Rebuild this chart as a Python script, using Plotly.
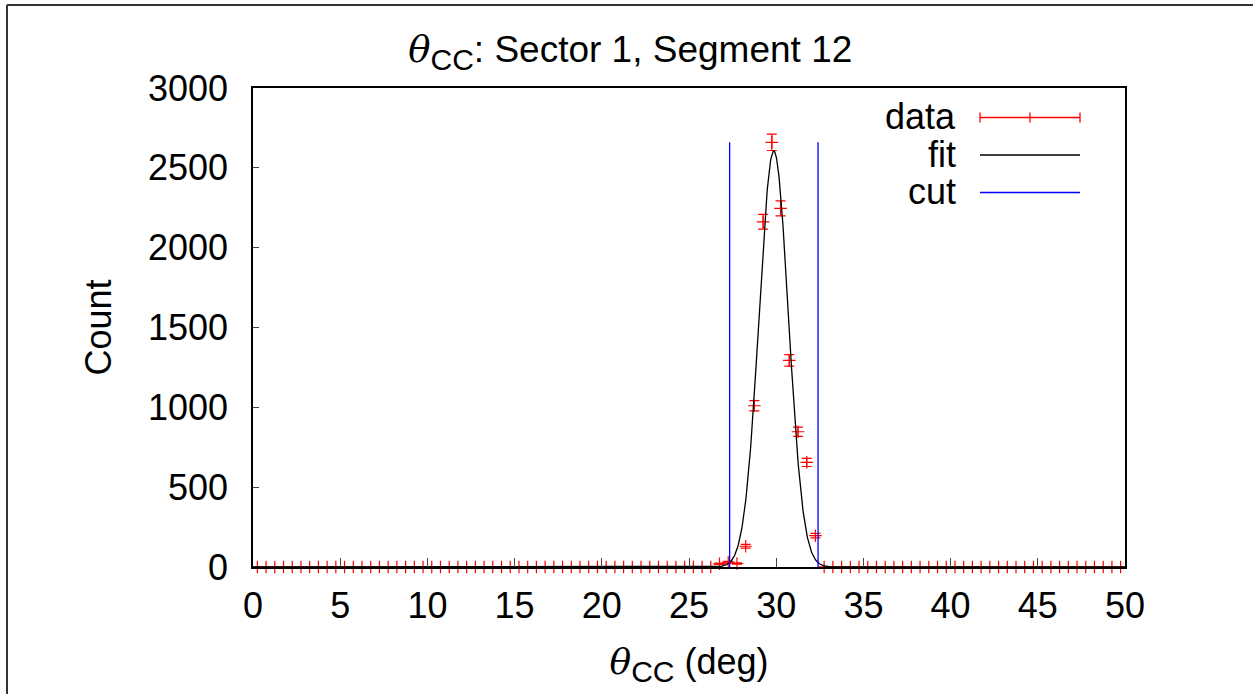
import numpy as np
import plotly.graph_objects as go

# Histogram of theta_CC: 100 bins of 0.5 deg between 0 and 50 deg
bin_width = 0.5
bin_centers = np.arange(0.25, 50.0, bin_width)
counts = [
    0, 0, 0, 0, 0, 0, 0, 0, 0, 0,
    0, 0, 0, 0, 0, 0, 0, 0, 0, 0,
    0, 0, 0, 0, 0, 0, 0, 0, 0, 0,
    0, 0, 0, 0, 0, 0, 0, 0, 0, 0,
    0, 0, 0, 0, 0, 0, 0, 0, 0, 0,
    0, 0, 0, 20, 30, 22, 130, 1010, 2162, 2660,
    2246, 1294, 847, 655, 196, 0, 0, 0, 0, 0,
    0, 0, 0, 0, 0, 0, 0, 0, 0, 0,
    0, 0, 0, 0, 0, 0, 0, 0, 0, 0,
    0, 0, 0, 0, 0, 0, 0, 0, 0, 0,
]
count_errors = np.sqrt(np.array(counts, dtype=float))

# Gaussian fit parameters
fit_amplitude = 2605.0
fit_mean = 29.86
fit_sigma = 0.84

# Cut window (mean +/- 3 sigma)
cut_low = 27.33
cut_high = 32.40
cut_top = max(counts)

x_ticks = list(range(0, 51, 5))
y_ticks = list(range(0, 3001, 500))

FONT = "Liberation Sans, Arial, Helvetica, sans-serif"
FS = 36
THETA = "<span style=\"font-family:'DejaVu Serif'\"><i>θ</i></span><sub><span style=\"font-size:30px\">CC</span></sub>"

fit_x = np.linspace(0, 50, 2001)
fit_y = fit_amplitude * np.exp(-0.5 * ((fit_x - fit_mean) / fit_sigma) ** 2)

fig = go.Figure()

fig.add_trace(go.Scatter(
    x=bin_centers, y=counts, mode="markers", name="data",
    marker=dict(symbol="cross-thin", size=9, line=dict(color="#ff0000", width=1.2), color="#ff0000"),
    error_y=dict(type="data", array=count_errors, visible=True, color="#ff0000", thickness=1.2, width=5),
    showlegend=False, cliponaxis=False,
))
fig.add_trace(go.Scatter(
    x=fit_x, y=fit_y, mode="lines", name="fit",
    line=dict(color="black", width=1.3), showlegend=False,
))
for xc in (cut_low, cut_high):
    fig.add_trace(go.Scatter(
        x=[xc, xc], y=[0, cut_top], mode="lines", name="cut",
        line=dict(color="#0000ff", width=1.3), showlegend=False,
    ))

# Plot area in pixels
W, H = 1253, 694
L, R, T, B = 253, 1125, 88, 567


def px(xp):
    return (xp - L) / (R - L)


def py(yp):
    return (B - yp) / (B - T)


shapes = []
annotations = []

# key: labels right-aligned, samples to their right
key_rows = [("data", 117.5, "#ff0000"), ("fit", 155, "black"), ("cut", 192.5, "#0000ff")]
for label, yrow, col in key_rows:
    annotations.append(dict(
        x=px(958), y=py(yrow - 1), xref="paper", yref="paper", text=label,
        showarrow=False, xanchor="right", yanchor="middle",
        font=dict(family=FONT, size=FS, color="black"),
    ))
    shapes.append(dict(type="line", xref="paper", yref="paper",
                       x0=px(980), x1=px(1080), y0=py(yrow), y1=py(yrow),
                       line=dict(color=col, width=1.3)))
# error-bar ticks on the data sample
for xt in (980, 1030, 1080):
    shapes.append(dict(type="line", xref="paper", yref="paper",
                       x0=px(xt), x1=px(xt), y0=py(117.5 - 5), y1=py(117.5 + 5),
                       line=dict(color="#ff0000", width=1.3)))

# page frame along top and left edges
shapes.append(dict(type="line", xref="paper", yref="paper",
                   x0=px(7), x1=px(W + 5), y0=py(5), y1=py(5),
                   line=dict(color="#333333", width=2)))
shapes.append(dict(type="line", xref="paper", yref="paper",
                   x0=px(7), x1=px(7), y0=py(5), y1=py(H + 5),
                   line=dict(color="#333333", width=2)))

fig.update_layout(
    width=W, height=H,
    margin=dict(l=L, r=W - R, t=T, b=H - B),
    plot_bgcolor="white", paper_bgcolor="white",
    font=dict(family=FONT, size=FS, color="black"),
    title=dict(
        text=THETA + ": Sector 1, Segment 12",
        x=0.503, xref="container", xanchor="center",
        y=1 - 49 / H, yref="container", yanchor="middle",
        font=dict(family=FONT, size=37, color="black"),
    ),
    shapes=shapes,
    annotations=annotations,
    showlegend=False,
)

fig.update_xaxes(
    range=[0, 50], tickvals=x_ticks, ticktext=[str(v) for v in x_ticks],
    ticks="inside", ticklen=9, tickwidth=1, tickcolor="#444444",
    showline=True, mirror=True, linecolor="black", linewidth=1.5,
    showgrid=False, zeroline=False, ticklabelstandoff=6,
    tickfont=dict(family=FONT, size=FS),
    title=dict(text=THETA + " (deg)", font=dict(family=FONT, size=FS), standoff=24),
)
fig.update_yaxes(
    range=[0, 3000], tickvals=y_ticks, ticktext=[str(v) for v in y_ticks],
    ticks="inside", ticklen=6, tickwidth=1, tickcolor="#444444",
    showline=True, mirror=True, linecolor="black", linewidth=1.5,
    showgrid=False, zeroline=False, ticklabelstandoff=16,
    tickfont=dict(family=FONT, size=FS),
    title=dict(text="Count", font=dict(family=FONT, size=FS), standoff=25),
)

fig.write_html("out.html")
